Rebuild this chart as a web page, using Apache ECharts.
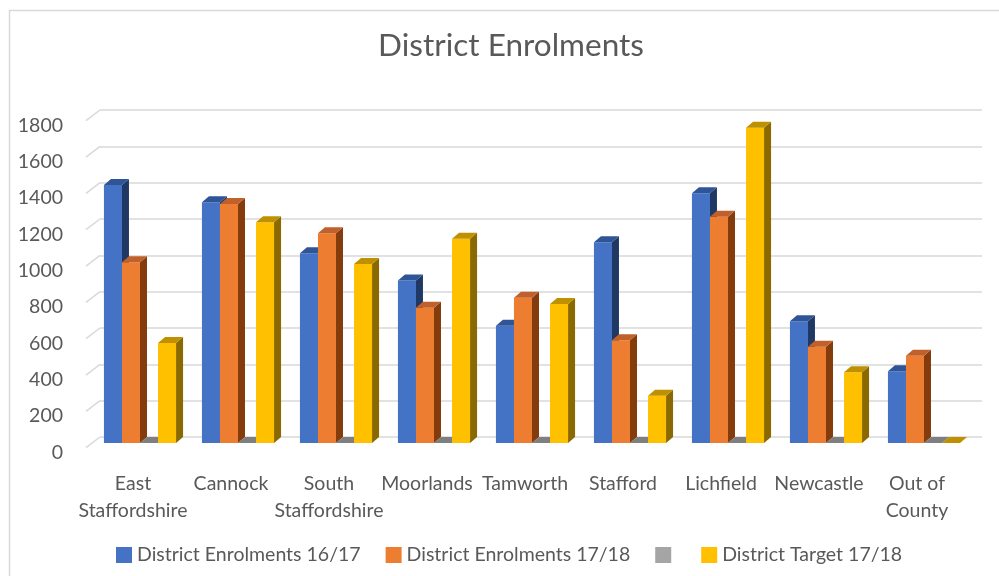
<!DOCTYPE html>
<html>
<head>
<meta charset="utf-8">
<title>District Enrolments</title>
<script src="https://cdn.jsdelivr.net/npm/echarts@6/dist/echarts.min.js"></script>
<style>
  html, body { margin: 0; padding: 0; background: #fff; }
  #chart { width: 999px; height: 576px; }
</style>
</head>
<body>
<div id="chart"></div>
<script>
'use strict';

// categories (wrapped like the Excel labels)
const districts = ['East\nStaffordshire', 'Cannock', 'South\nStaffordshire', 'Moorlands',
    'Tamworth', 'Stafford', 'Lichfield', 'Newcastle', 'Out of\nCounty'];

const enrol1617 = [1420, 1325, 1045, 895, 645, 1105, 1375, 670, 395];
const enrol1718 = [995, 1315, 1155, 745, 800, 565, 1245, 530, 480];
const blankSeries = [0, 0, 0, 0, 0, 0, 0, 0, 0];
const target1718 = [550, 1215, 985, 1125, 765, 260, 1735, 390, 0];

const yTicks = [0, 200, 400, 600, 800, 1000, 1200, 1400, 1600, 1800];

const TEXT = '#595959';
const GRID = '#d9d9d9';
const FONT = 'Lato';
const FS = 19.5;

// front / top / side shades for the fake 3d columns
const shades = [
    ['#4472c4', '#2f5597', '#203864'],
    ['#ed7d31', '#c0602a', '#843c0c'],
    ['#a5a5a5', '#7f7f7f', '#595959'],
    ['#ffc000', '#bf9000', '#8a6a00']
];

const toData = arr => arr.map((v, i) => [i, v]);

/**
 * Column with a top and a right side face, slot = position inside the group
 */
const column3d = slot => (params, api) => {
    const idx = api.value(0);
    const val = api.value(1);
    const base = api.coord([idx, 0]);
    const top = api.coord([idx, val]);
    const cw = api.size([1, 0])[0];
    const w = cw * 0.184;
    const dx = 7, dy = -6;
    const x0 = base[0] - 2 - 2 * w + slot * w - dx;
    const x1 = x0 + w;
    const yb = base[1] - dy;
    const yt = top[1] - dy;
    const [front, topC, side] = shades[slot];
    const children = [];
    if (yb - yt > 0.5) {
        children.push({
            type: 'rect',
            shape: { x: x0, y: yt, width: w, height: yb - yt },
            style: { fill: front }
        });
        children.push({
            type: 'polygon',
            shape: { points: [[x1, yt], [x1, yb], [x1 + dx, yb + dy], [x1 + dx, yt + dy]] },
            style: { fill: side }
        });
    }
    children.push({
        type: 'polygon',
        shape: { points: [[x0, yt], [x1, yt], [x1 + dx, yt + dy], [x0 + dx, yt + dy]] },
        style: { fill: topC }
    });
    return { type: 'group', children };
};

// short diagonal of the left wall for every gridline
const wallLine = (params, api) => {
    const p = api.coord([0, api.value(0)]);
    const cw = api.size([1, 0])[0];
    const left = p[0] - cw / 2;
    return {
        type: 'line',
        shape: { x1: left - 14, y1: p[1] + 10.7, x2: left, y2: p[1] },
        style: { stroke: GRID, lineWidth: 1.5 }
    };
};

const seriesNames = ['District Enrolments 16/17', 'District Enrolments 17/18', '\u200b', 'District Target 17/18'];
const seriesValues = [enrol1617, enrol1718, blankSeries, target1718];

const chart = echarts.init(document.getElementById('chart'));

chart.setOption({
    backgroundColor: '#fff',
    animation: false,
    textStyle: { fontFamily: FONT },
    title: {
        text: 'District Enrolments',
        left: 506,
        textAlign: 'center',
        top: 25,
        textStyle: { fontFamily: FONT, fontSize: 31.5, fontWeight: 'normal', color: TEXT }
    },
    legend: {
        data: seriesNames,
        left: 111,
        top: 540,
        icon: 'rect',
        itemWidth: 16,
        itemHeight: 16,
        itemGap: 25,
        textStyle: { fontFamily: FONT, fontSize: FS, color: TEXT }
    },
    grid: { left: 100, right: 17, top: 110, bottom: 139, containLabel: false },
    xAxis: {
        type: 'category',
        data: districts,
        axisLine: { show: false },
        axisTick: { show: false },
        axisLabel: {
            interval: 0,
            margin: 33,
            fontFamily: FONT,
            fontSize: FS,
            lineHeight: 27,
            color: TEXT,
            padding: [0, 32, 0, 0]
        }
    },
    yAxis: {
        type: 'value',
        min: 0,
        max: 1800,
        interval: 200,
        axisLine: { show: false },
        axisTick: { show: false },
        axisLabel: {
            margin: 37,
            fontFamily: FONT,
            fontSize: FS,
            color: TEXT,
            verticalAlign: 'top',
            lineHeight: 31,
            formatter: v => String(v)
        },
        splitLine: { lineStyle: { color: GRID, width: 1.5 } }
    },
    graphic: [{
        type: 'rect',
        left: 7,
        top: 8,
        shape: { width: 1010, height: 600 },
        style: { fill: 'none', stroke: GRID, lineWidth: 1.5 },
        silent: true
    }],
    series: [
        {
            type: 'custom',
            name: 'wall',
            silent: true,
            renderItem: wallLine,
            data: yTicks.map(v => [v]),
            encode: { y: 0 },
            itemStyle: { color: GRID },
            z: 1
        }
    ].concat(seriesNames.map((name, i) => ({
        type: 'custom',
        name,
        renderItem: column3d(i),
        data: toData(seriesValues[i]),
        encode: { x: 0, y: 1 },
        itemStyle: { color: shades[i][0] },
        z: 2
    })))
});
</script>
</body>
</html>
